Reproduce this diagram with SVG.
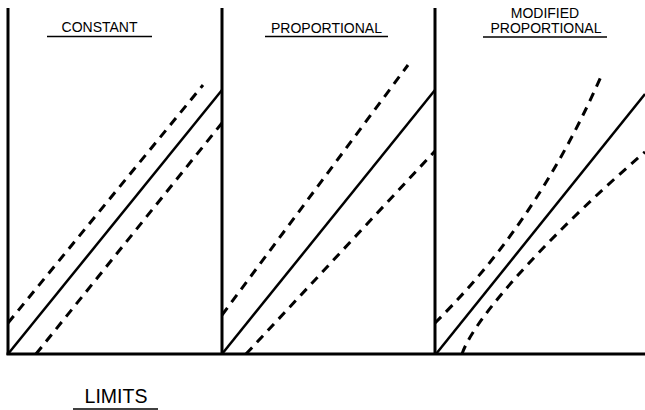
<svg xmlns="http://www.w3.org/2000/svg" width="645" height="410" viewBox="0 0 645 410">
<style>
.frame{stroke:#000;stroke-width:3;fill:none}
.solid{stroke:#000;stroke-width:2.5;fill:none}
.dash{stroke:#000;stroke-width:3;fill:none;stroke-dasharray:9 7}
.ul{stroke:#000;stroke-width:1.5}
.t{font-family:"Liberation Sans",Arial,sans-serif;font-size:14px;fill:#000;text-anchor:middle}
.big{font-size:19.5px}
</style>
<rect width="645" height="410" fill="#fff"/>
<g id="frame">
<line class="frame" x1="8" y1="8" x2="8" y2="355"/>
<line class="frame" x1="222" y1="8" x2="222" y2="355"/>
<line class="frame" x1="435" y1="8" x2="435" y2="355"/>
<line class="frame" x1="6.5" y1="354" x2="645" y2="354"/>
</g>
<g id="constant">
<text class="t" x="99.5" y="32">CONSTANT</text>
<line class="ul" x1="47" y1="36.5" x2="152" y2="36.5"/>
<line class="solid" x1="8" y1="354" x2="222" y2="90"/>
<line class="dash" x1="8" y1="323" x2="203" y2="85"/>
<line class="dash" x1="36" y1="354" x2="222" y2="123"/>
</g>
<g id="proportional">
<text class="t" x="326.5" y="33">PROPORTIONAL</text>
<line class="ul" x1="265" y1="36.5" x2="388" y2="36.5"/>
<line class="solid" x1="222" y1="354" x2="435" y2="90"/>
<line class="dash" x1="222" y1="315" x2="408" y2="65"/>
<line class="dash" x1="246" y1="354" x2="435" y2="151"/>
</g>
<g id="modified">
<text class="t" x="545" y="18">MODIFIED</text>
<text class="t" x="546" y="33">PROPORTIONAL</text>
<line class="ul" x1="483" y1="37" x2="607" y2="37"/>
<line class="solid" x1="436" y1="354" x2="645" y2="94"/>
<path class="dash" d="M435,323 C480,278 545,205 603,72"/>
<path class="dash" d="M462,354 C475,315 560,225 645,152"/>
</g>
<g id="limits">
<text class="t big" x="116" y="403">LIMITS</text>
<line class="ul" x1="73" y1="409" x2="158" y2="409"/>
</g>
</svg>
